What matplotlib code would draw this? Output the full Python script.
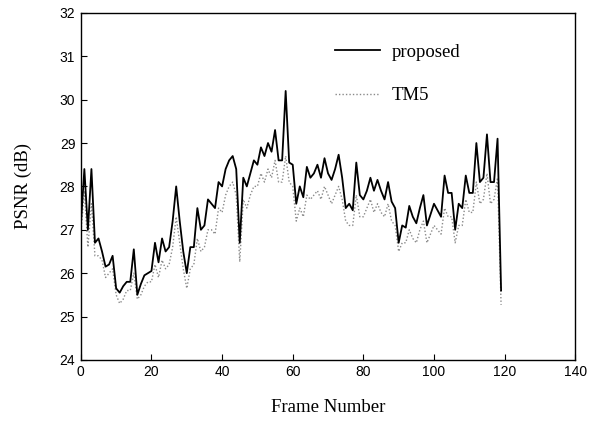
"""PSNR per frame: proposed rate control vs. TM5."""

import matplotlib
matplotlib.use("Agg")
import matplotlib.pyplot as plt

frames = list(range(120))

psnr_proposed = [
    27.1, 28.4, 27.0, 28.4, 26.7, 26.8, 26.5, 26.15, 26.2, 26.4,
    25.65, 25.55, 25.7, 25.8, 25.8, 26.55, 25.5, 25.75, 25.95, 26.0,
    26.05, 26.7, 26.25, 26.8, 26.5, 26.6, 27.2, 28.0, 27.2, 26.5,
    26.0, 26.6, 26.6, 27.5, 27.0, 27.1, 27.7, 27.6, 27.5, 28.1,
    28.0, 28.4, 28.6, 28.7, 28.4, 26.7, 28.2, 28.0, 28.3, 28.6,
    28.5, 28.9, 28.7, 29.0, 28.8, 29.3, 28.6, 28.6, 30.2, 28.55,
    28.5, 27.6, 28.0, 27.75, 28.45, 28.2, 28.3, 28.5, 28.2, 28.65,
    28.3, 28.15, 28.4, 28.73, 28.2, 27.5, 27.6, 27.45, 28.55, 27.8,
    27.7, 27.9, 28.2, 27.9, 28.15, 27.9, 27.7, 28.1, 27.65, 27.5,
    26.7, 27.1, 27.05, 27.55, 27.3, 27.15, 27.5, 27.8, 27.1, 27.35,
    27.6, 27.45, 27.3, 28.25, 27.85, 27.85, 27.0, 27.6, 27.5, 28.25,
    27.85, 27.85, 29.0, 28.1, 28.2, 29.2, 28.1, 28.1, 29.1, 25.6,
]

psnr_tm5 = [
    26.9, 27.9, 26.6, 27.6, 26.4, 26.4, 26.3, 25.9, 26.0, 26.1,
    25.5, 25.3, 25.4, 25.6, 25.6, 26.0, 25.4, 25.5, 25.7, 25.8,
    25.8, 26.2, 25.9, 26.3, 26.1, 26.2, 26.6, 27.3, 26.7, 26.1,
    25.65, 26.1, 26.2, 26.8, 26.5, 26.6, 27.0, 27.0, 26.9, 27.5,
    27.4, 27.8, 28.0, 28.1, 27.8, 26.26, 27.7, 27.5, 27.8, 28.0,
    28.0, 28.3, 28.1, 28.4, 28.2, 28.6, 28.1, 28.1, 28.7, 28.1,
    28.0, 27.2, 27.5, 27.3, 27.8, 27.7, 27.8, 27.9, 27.7, 28.0,
    27.8, 27.6, 27.8, 28.0, 27.7, 27.2, 27.1, 27.1, 27.8, 27.3,
    27.3, 27.5, 27.7, 27.4, 27.6, 27.4, 27.3, 27.6, 27.2, 27.1,
    26.5, 26.7, 26.7, 27.0, 26.8, 26.7, 27.0, 27.2, 26.7, 26.9,
    27.1, 27.0, 26.9, 27.5, 27.3, 27.3, 26.7, 27.1, 27.1, 27.7,
    27.4, 27.4, 28.1, 27.6, 27.7, 28.3, 27.6, 27.7, 28.2, 25.27,
]

serif = ["Liberation Serif", "DejaVu Serif"]

fig = plt.figure(figsize=(5.9, 4.3), dpi=100)
ax = fig.add_axes([0.137, 0.163, 0.838, 0.807])

ax.plot(frames, psnr_tm5, color="#8a8a8a", lw=1.0, ls=(0, (1, 1.5)), label="TM5", zorder=2)
ax.plot(frames, psnr_proposed, color="black", lw=1.3, label="proposed", zorder=3)

ax.set_xlim(0, 140)
ax.set_ylim(24, 32)
ax.set_xticks(range(0, 141, 20))
ax.set_yticks(range(24, 33))
ax.tick_params(direction="in", length=4, width=0.8, labelsize=10, pad=4)
for lab in ax.get_xticklabels() + ax.get_yticklabels():
    lab.set_family("Liberation Sans")
for sp in ax.spines.values():
    sp.set_linewidth(1.0)

ax.set_xlabel("Frame Number", fontsize=13.5, family=serif, labelpad=14)
ax.set_ylabel("PSNR (dB)", fontsize=13.5, family=serif, labelpad=20)

handles, labels = ax.get_legend_handles_labels()
ax.legend(handles[::-1], labels[::-1], loc="upper left", bbox_to_anchor=(0.48, 0.96),
          frameon=False, handlelength=2.4, handletextpad=0.6, labelspacing=1.4,
          prop={"family": serif, "size": 13.5})

fig.savefig("out.png", dpi=100)
